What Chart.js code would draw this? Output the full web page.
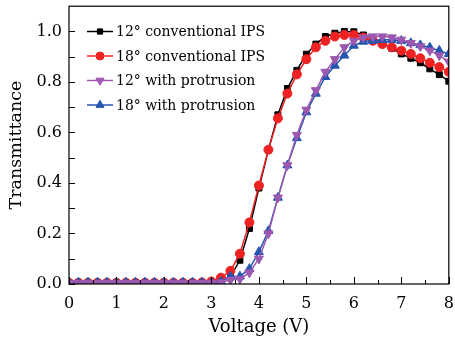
<!DOCTYPE html>
<html>
<head>
<meta charset="utf-8">
<script src="https://cdn.jsdelivr.net/npm/chart.js@4.4.1/dist/chart.umd.min.js"></script>
<style>
  html, body { margin: 0; padding: 0; background: #fff; }
  #wrap { width: 455px; height: 342px; position: relative; }
</style>
</head>
<body>
<div id="wrap"><canvas id="c" width="455" height="342"></canvas></div>
<script>
// ---- Data ----
const voltages = [0,0.2,0.4,0.6,0.8,1.0,1.2,1.4,1.6,1.8,2.0,2.2,2.4,2.6,2.8,3.0,3.2,3.4,3.6,3.8,4.0,4.2,4.4,4.6,4.8,5.0,5.2,5.4,5.6,5.8,6.0,6.2,6.4,6.6,6.8,7.0,7.2,7.4,7.6,7.8,8.0];
const conv12 = [0.005,0.005,0.005,0.005,0.005,0.005,0.005,0.005,0.005,0.005,0.005,0.005,0.005,0.005,0.005,0.008,0.012,0.03,0.094,0.22,0.38,0.53,0.67,0.774,0.846,0.91,0.95,0.98,0.993,1.0,0.999,0.986,0.976,0.954,0.933,0.911,0.894,0.876,0.852,0.829,0.803];
const conv18 = [0.005,0.005,0.005,0.005,0.005,0.005,0.005,0.005,0.005,0.005,0.005,0.005,0.005,0.005,0.006,0.01,0.025,0.052,0.12,0.244,0.39,0.532,0.656,0.754,0.83,0.89,0.937,0.963,0.98,0.986,0.986,0.976,0.963,0.95,0.937,0.924,0.911,0.894,0.876,0.859,0.84];
const prot12 = [0.004,0.004,0.004,0.004,0.004,0.004,0.004,0.004,0.004,0.004,0.004,0.004,0.004,0.004,0.004,0.004,0.006,0.016,0.02,0.045,0.10,0.2,0.342,0.47,0.59,0.69,0.767,0.84,0.89,0.937,0.963,0.976,0.98,0.98,0.976,0.967,0.954,0.941,0.924,0.905,0.88];
const prot18 = [0.006,0.006,0.006,0.006,0.006,0.006,0.006,0.006,0.006,0.006,0.006,0.006,0.006,0.006,0.006,0.006,0.01,0.03,0.03,0.06,0.127,0.21,0.342,0.47,0.578,0.68,0.754,0.82,0.865,0.905,0.944,0.96,0.963,0.967,0.967,0.963,0.954,0.946,0.937,0.924,0.911];
const seriesLabels = ['12° conventional IPS','18° conventional IPS','12° with protrusion','18° with protrusion'];
const xTickValues = [0,1,2,3,4,5,6,7,8];
const yTickValues = [0,0.2,0.4,0.6,0.8,1.0];
const xTitle = 'Voltage (V)';
const yTitle = 'Transmittance';

const FONT = '"DejaVu Serif", "Liberation Serif", serif';

function mk(label, data, color, style, rot, radius, order) {
  return {
    label, data: voltages.map((v,i)=>({x:v,y:data[i]})),
    borderColor: color, backgroundColor: color,
    borderWidth: 1.5, pointStyle: style, rotation: rot,
    pointRadius: radius, pointBorderWidth: 1, pointBorderColor: color,
    pointBackgroundColor: color, tension: 0, order
  };
}

const datasets = [
  mk(seriesLabels[0], conv12, '#000000', 'rect', 0, 4.2, 3),
  mk(seriesLabels[1], conv18, '#ee2222', 'circle', 0, 4.5, 2),
  mk(seriesLabels[2], prot12, '#9c58b0', 'triangle', 180, 5.2, 0),
  mk(seriesLabels[3], prot18, '#2456b0', 'triangle', 0, 5.2, 1),
];

const tickPlugin = {
  id: 'inTicks',
  afterDraw(chart) {
    const ctx = chart.ctx, a = chart.chartArea;
    const xs = chart.scales.x, ys = chart.scales.y;
    ctx.save();
    ctx.strokeStyle = '#000';
    ctx.lineWidth = 1;
    ctx.beginPath();
    for (let v = 0; v <= 8.0001; v += 0.5) {
      const px = Math.round(xs.getPixelForValue(v)) + 0.5;
      const len = Math.abs(v - Math.round(v)) < 1e-6 ? 7 : 4;
      ctx.moveTo(px, a.bottom); ctx.lineTo(px, a.bottom - len);
    }
    for (let i = 0; i <= 10; i++) {
      const py = Math.round(ys.getPixelForValue(i / 10)) + 0.5;
      ctx.moveTo(a.left, py); ctx.lineTo(a.left + 6, py);
    }
    ctx.stroke();
    ctx.lineWidth = 1.2;
    ctx.strokeRect(a.left, a.top, a.right - a.left, a.bottom - a.top);
    ctx.restore();

    // legend
    ctx.save();
    const lx0 = 87, lx1 = 113, tx = 116;
    ctx.font = '14px ' + FONT;
    ctx.textBaseline = 'middle';
    ctx.fillStyle = '#000';
    [0,1,2,3].forEach((di, k) => {
      const ds = chart.data.datasets[di];
      const y = 31.5 + k * 24.5;
      ctx.strokeStyle = ds.borderColor;
      ctx.lineWidth = 1.5;
      ctx.beginPath(); ctx.moveTo(lx0, y); ctx.lineTo(lx1, y); ctx.stroke();
      ctx.fillStyle = ds.pointBackgroundColor;
      ctx.strokeStyle = ds.pointBorderColor;
      ctx.lineWidth = 1;
      Chart.helpers.drawPoint(ctx, {pointStyle: ds.pointStyle, rotation: ds.rotation, radius: ds.pointRadius - 0.5, borderWidth: 1}, (lx0 + lx1) / 2, y);
      ctx.fillStyle = '#000';
      ctx.fillText(ds.label, tx, y + 1);
    });
    ctx.restore();
  }
};

new Chart(document.getElementById('c'), {
  type: 'line',
  data: { datasets },
  options: {
    responsive: false,
    animation: false,
    layout: { padding: { top: 4, right: 5, left: 0, bottom: 0 } },
    plugins: { legend: { display: false }, tooltip: { enabled: false } },
    scales: {
      x: {
        type: 'linear', min: 0, max: 8,
        grid: { display: false, drawTicks: false },
        border: { display: false },
        afterBuildTicks: s => { s.ticks = xTickValues.map(v => ({ value: v })); },
        afterFit: s => { s.height = 58; s.paddingRight = 0; s.paddingLeft = 0; },
        ticks: { color: '#000', padding: 10, maxRotation: 0, font: { family: FONT, size: 16 }, callback: v => String(v) },
        title: { display: true, text: xTitle, color: '#000', font: { family: FONT, size: 18 }, padding: { top: 0 } }
      },
      y: {
        type: 'linear', min: 0, max: 1.1,
        grid: { display: false, drawTicks: false },
        border: { display: false },
        afterBuildTicks: s => { s.ticks = yTickValues.map(v => ({ value: v })); },
        afterFit: s => { s.width = 69; s.paddingTop = 0; s.paddingBottom = 0; },
        ticks: { color: '#000', padding: 7, font: { family: FONT, size: 16 }, callback: v => Number(v).toFixed(1) },
        title: { display: true, text: yTitle, color: '#000', font: { family: FONT, size: 17.5 }, padding: { top: 6, bottom: 0 } }
      }
    }
  },
  plugins: [tickPlugin]
});
</script>
</body>
</html>
